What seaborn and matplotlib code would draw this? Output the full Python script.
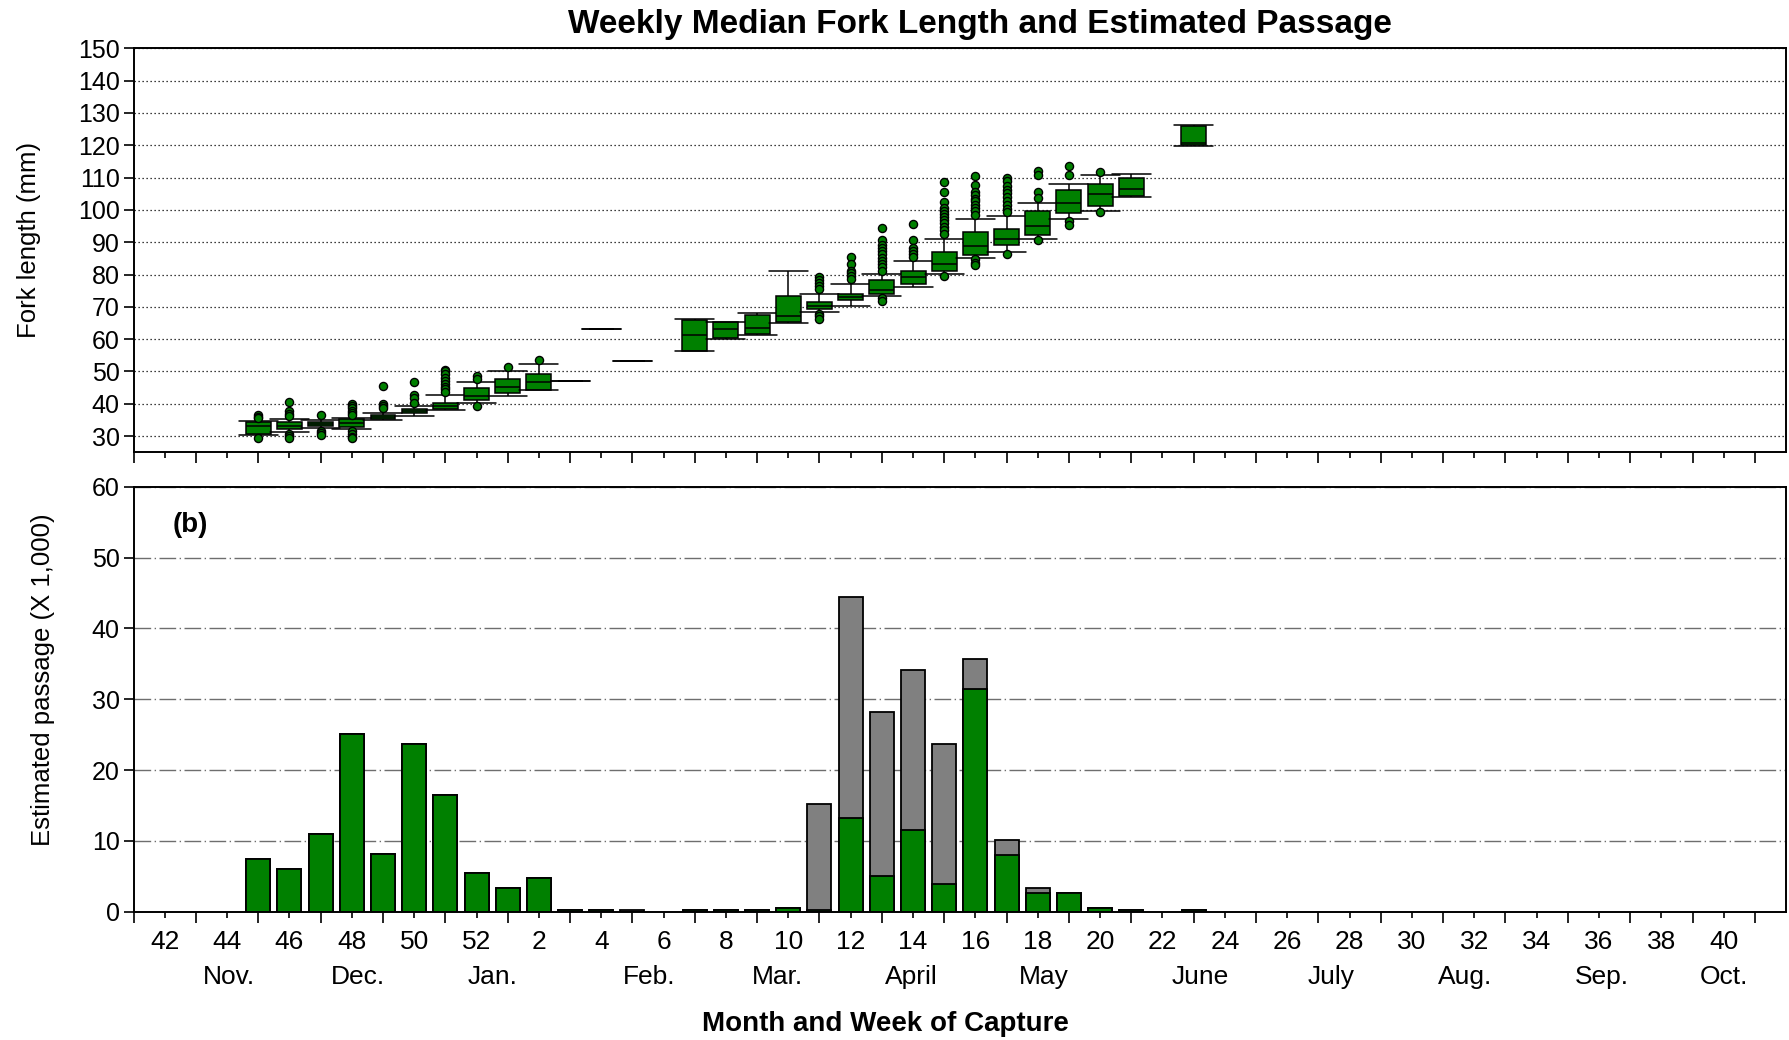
import numpy as np
import pandas as pd
import matplotlib
matplotlib.use("Agg")
import matplotlib.pyplot as plt
import seaborn as sns
from matplotlib.ticker import FixedLocator, FixedFormatter, NullFormatter

sns.set_style("ticks")
plt.rcParams['font.family'] = ['Liberation Sans', 'DejaVu Sans']
plt.rcParams.update({"text.color": "black", "axes.labelcolor": "black",
                     "xtick.color": "black", "ytick.color": "black"})

# ---------------- data ----------------
# x-axis order: week 41 ... 52, then 1 ... 41
WEEK_ORDER = list(range(41, 53)) + list(range(1, 42))
TICK_WEEKS = list(range(42, 53, 2)) + list(range(2, 41, 2))
MONTHS = ["Nov.", "Dec.", "Jan.", "Feb.", "Mar.", "April", "May", "June",
          "July", "Aug.", "Sep.", "Oct."]

# (a) weekly fork-length box summaries (mm)
FL_WEEKS = [45, 46, 47, 48, 49, 50, 51, 52, 1, 2, 3, 4, 5, 7, 8, 9, 10, 11,
            12, 13, 14, 15, 16, 17, 18, 19, 20, 21, 23]
FL_LOW = [30.2, 31.2, 32.6, 32.2, 35.0, 36.3, 38.1, 40.3, 42.3, 44.2, 47.1, 63.0, 53.2,
          56.2, 60.1, 61.2, 65.0, 68.3, 70.3, 73.2, 76.2, 80.1, 85.2, 87.1, 91.1,
          97.1, 99.6, 104.1, 119.9]
FL_Q1 = [30.6, 32.3, 33.1, 32.9, 35.3, 37.3, 38.4, 41.2, 43.3, 44.4, 47.1, 63.0, 53.2,
         56.3, 60.4, 61.5, 65.3, 69.3, 72.1, 74.1, 77.0, 81.1, 86.1, 89.2, 92.2,
         99.1, 101.2, 104.3, 120.1]
FL_MED = [33.2, 33.2, 33.7, 34.0, 35.9, 37.8, 39.2, 42.3, 45.3, 46.6, 47.1, 63.0, 53.2,
          61.3, 63.1, 63.6, 67.3, 70.3, 73.0, 75.3, 79.3, 83.3, 88.9, 91.1, 95.0,
          102.2, 105.0, 106.6, 120.8]
FL_Q3 = [34.3, 34.3, 34.3, 35.2, 36.5, 38.4, 40.4, 44.8, 47.8, 49.3, 47.1, 63.0, 53.2,
         65.9, 65.2, 67.4, 73.2, 71.4, 74.1, 78.3, 81.1, 87.1, 93.2, 94.2, 99.7,
         106.0, 108.1, 110.0, 126.0]
FL_HIGH = [34.8, 35.2, 35.0, 35.6, 37.2, 39.2, 42.8, 46.9, 50.1, 52.3, 47.1, 63.0, 53.2,
           66.1, 65.4, 68.0, 81.1, 74.1, 77.2, 80.1, 84.2, 91.1, 97.1, 98.1, 102.2,
           108.1, 110.8, 111.0, 126.3]
FL_OUTLIERS = {
    45: [36.6, 36.0, 35.5, 29.5],
    46: [40.5, 37.9, 36.8, 36.3, 30.6, 29.9, 29.4],
    47: [36.5, 31.5, 30.9, 30.3],
    48: [39.8, 39.2, 38.6, 37.9, 37.2, 36.4, 31.5, 30.6, 29.8, 29.3],
    49: [45.5, 39.8, 39.3, 38.6],
    50: [46.6, 42.6, 41.8, 40.4],
    51: [50.6, 50.0, 49.2, 48.0, 47.0, 46.2, 45.3, 44.5, 43.6],
    52: [48.6, 47.8, 39.4],
    1: [51.5],
    2: [53.5],
    11: [79.2, 78.3, 77.4, 76.4, 75.5, 67.9, 67.2, 66.3],
    12: [85.4, 83.4, 81.2, 80.4, 79.6, 78.5],
    13: [94.5, 90.7, 89.1, 88.2, 87.2, 86.2, 85.0, 84.1, 83.3, 82.3, 81.2, 72.8, 71.9],
    14: [95.5, 90.6, 88.2, 87.2, 86.2, 85.4],
    15: [108.6, 105.5, 102.4, 100.7, 99.7, 98.8, 97.7, 96.8, 95.8, 94.8, 93.8, 92.5, 79.5],
    16: [110.5, 107.6, 105.6, 104.5, 103.5, 102.6, 101.6, 100.6, 99.6, 98.5, 84.7, 83.6, 82.8],
    17: [109.9, 108.9, 107.5, 106.2, 105.1, 104.0, 102.8, 101.6, 100.4, 99.2, 86.4],
    18: [112.0, 110.9, 105.5, 103.7, 90.6],
    19: [113.5, 110.7, 96.6, 95.3],
    20: [111.6, 99.3],
}

# (b) weekly estimated passage (x 1,000)
PASS_WEEKS = [45, 46, 47, 48, 49, 50, 51, 52, 1, 2, 3, 4, 5, 7, 8, 9, 10, 11,
              12, 13, 14, 15, 16, 17, 18, 19, 20, 21, 23]
PASS_GREEN = [7.4, 6.0, 11.0, 25.1, 8.2, 23.7, 16.5, 5.5, 3.3, 4.7, 0.3, 0.3, 0.0,
              0.3, 0.3, 0.3, 0.5, 0.3, 13.2, 5.0, 11.5, 3.9, 31.4, 8.0, 2.6,
              2.7, 0.5, 0.2, 0.2]
PASS_GRAY = [0, 0, 0, 0, 0, 0, 0, 0, 0, 0, 0, 0, 0.2,
             0, 0, 0, 0, 14.9, 31.2, 23.2, 22.6, 19.8, 4.3, 2.1, 0.7,
             0, 0, 0, 0]

# ---------------- layout constants ----------------
GREEN = "#008000"
GRAY = "#808080"
MONTH_POS = [3.05, 7.2, 11.5, 16.55, 20.65, 24.95, 29.2, 34.2, 38.4, 42.7, 47.1, 51.0]


def pos_of(w):
    return WEEK_ORDER.index(w)


box_rows = []
for w, a, b, c, d, e in zip(FL_WEEKS, FL_LOW, FL_Q1, FL_MED, FL_Q3, FL_HIGH):
    for v in (a, b, c, d, e):
        box_rows.append({"pos": pos_of(w), "fl": v})
box_df = pd.DataFrame(box_rows)

out_rows = [{"pos": pos_of(w), "fl": v} for w, vals in FL_OUTLIERS.items() for v in vals]
out_df = pd.DataFrame(out_rows)

pass_df = pd.DataFrame({
    "pos": [pos_of(w) for w in PASS_WEEKS],
    "green": PASS_GREEN,
    "total": [g + o for g, o in zip(PASS_GREEN, PASS_GRAY)],
})

fig = plt.figure(figsize=(17.9, 10.4), dpi=100)
ax1 = fig.add_axes([0.0746, 0.5651, 0.9232, 0.3885])
ax2 = fig.add_axes([0.0746, 0.1234, 0.9232, 0.4086])

# ---- top: box plots ----
sns.boxplot(data=box_df, x="pos", y="fl", native_scale=True, whis=(0, 100),
            width=0.8, color=GREEN, saturation=1, linecolor="black",
            linewidth=1.1, capwidths=1.25, ax=ax1)
sns.scatterplot(data=out_df, x="pos", y="fl", color=GREEN, edgecolor="black",
                linewidth=1.0, s=34, zorder=4, legend=False, ax=ax1)

ax1.set_ylim(25, 150)
ax1.set_yticks(range(30, 151, 10))
ax1.yaxis.grid(True, linestyle=(0, (1, 2.2)), color="black", linewidth=0.9)
ax1.set_axisbelow(True)
ax1.set_xlabel("")
ax1.set_ylabel("")

# ---- bottom: stacked bars ----
sns.barplot(data=pass_df, x="pos", y="total", native_scale=True, color=GRAY,
            saturation=1, edgecolor="black", linewidth=1.3, width=0.77,
            errorbar=None, ax=ax2)
sns.barplot(data=pass_df, x="pos", y="green", native_scale=True, color=GREEN,
            saturation=1, edgecolor="black", linewidth=1.3, width=0.77,
            errorbar=None, ax=ax2)
ax2.set_ylim(0, 60)
ax2.set_yticks(range(0, 61, 10))
ax2.yaxis.grid(True, linestyle=(0, (12, 2.5, 1, 2.5)), color="#6e6e6e", linewidth=1.0)
ax2.set_axisbelow(True)
ax2.set_xlabel("")
ax2.set_ylabel("")

label_pos = [pos_of(w) for w in TICK_WEEKS]
for ax in (ax1, ax2):
    ax.set_xlim(0, 53)
    ax.xaxis.set_major_locator(FixedLocator(label_pos))
    ax.xaxis.set_minor_locator(FixedLocator(list(range(0, 53, 2))))
    ax.tick_params(axis="x", which="major", length=4, width=1.2, direction="out",
                   labelsize=19, pad=9)
    ax.tick_params(axis="x", which="minor", length=8, width=1.2, direction="out")
    ax.tick_params(axis="y", which="major", length=7, width=1.2, direction="out",
                   labelsize=18, pad=3)
    for s in ax.spines.values():
        s.set_visible(True)
        s.set_linewidth(1.4)
        s.set_color("black")

ax1.xaxis.set_major_formatter(NullFormatter())
ax2.xaxis.set_major_formatter(FixedFormatter([str(w) for w in TICK_WEEKS]))

for name, p in zip(MONTHS, MONTH_POS):
    ax2.text(p, -0.154, name, transform=ax2.get_xaxis_transform(),
             ha="center", va="center", fontsize=19)

ax2.text(0.0345, 0.91, "(b)", transform=ax2.transAxes, ha="center", va="center",
         fontsize=20, fontweight="bold")

fig.text(0.5472, 0.976, "Weekly Median Fork Length and Estimated Passage",
         ha="center", va="center", fontsize=24, fontweight="bold")
fig.text(0.4944, 0.0154, "Month and Week of Capture", ha="center", va="center",
         fontsize=20, fontweight="bold")
fig.text(0.0163, 0.769, "Fork length (mm)", rotation=90, ha="center",
         va="center", fontsize=18.5)
fig.text(0.0239, 0.346, "Estimated passage (X 1,000)", rotation=90,
         ha="center", va="center", fontsize=18.5)

fig.savefig("out.png", dpi=100)
